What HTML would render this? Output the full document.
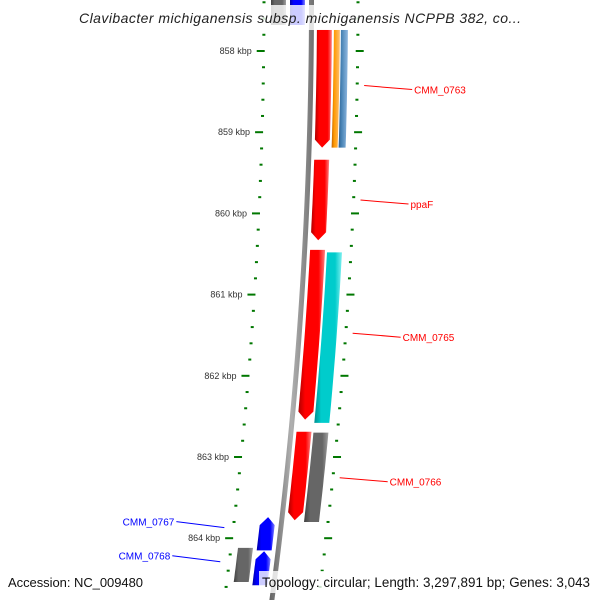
<!DOCTYPE html>
<html><head><meta charset="utf-8"><style>
body{margin:0;background:#fff}
svg{display:block;font-family:"Liberation Sans","DejaVu Sans",sans-serif}
</style></head><body>
<svg id="map" width="600" height="600" viewBox="0 0 600 600">
<defs>
<linearGradient id="gRed" x1="0" x2="1" y1="0" y2="0"><stop offset="0" stop-color="#b00000"/><stop offset="0.25" stop-color="#ff0000"/><stop offset="0.75" stop-color="#ff0000"/><stop offset="1" stop-color="#ff8080"/></linearGradient>
<linearGradient id="gOrange" x1="0" x2="1"><stop offset="0" stop-color="#c06000"/><stop offset="0.3" stop-color="#ff9900"/><stop offset="1" stop-color="#ffc070"/></linearGradient>
<linearGradient id="gSteel" x1="0" x2="1"><stop offset="0" stop-color="#2f5f8f"/><stop offset="0.3" stop-color="#4682b4"/><stop offset="1" stop-color="#90b8e0"/></linearGradient>
<linearGradient id="gCyan" x1="0" x2="1"><stop offset="0" stop-color="#009090"/><stop offset="0.25" stop-color="#00cccc"/><stop offset="0.75" stop-color="#00cccc"/><stop offset="1" stop-color="#80f0f0"/></linearGradient>
<linearGradient id="gGray" x1="0" x2="1"><stop offset="0" stop-color="#404040"/><stop offset="0.25" stop-color="#666"/><stop offset="0.75" stop-color="#666"/><stop offset="1" stop-color="#a0a0a0"/></linearGradient>
<linearGradient id="gBlue" x1="0" x2="1"><stop offset="0" stop-color="#0000a0"/><stop offset="0.25" stop-color="#0000ff"/><stop offset="0.75" stop-color="#0000ff"/><stop offset="1" stop-color="#8080ff"/></linearGradient>
<linearGradient id="gBack" x1="0" x2="1"><stop offset="0" stop-color="#606060"/><stop offset="0.5" stop-color="#b0b0b0"/><stop offset="1" stop-color="#707070"/></linearGradient>
</defs>
<g id="layer"></g>
</svg>
<script>
// data
const tickKbp=[858,859,860,861,862,863,864];
const tickLabels=["858 kbp","859 kbp","860 kbp","861 kbp","862 kbp","863 kbp","864 kbp"];
const geneNames=["top-gray","top-blue","CMM_0763","CMM_0763-b","CMM_0763-c","ppaF","CMM_0765","CMM_0765-b","CMM_0766","CMM_0766-b","CMM_0767","CMM_0768","CMM_0768-b"];
const geneStart=[857.2,857.2,857.74,857.74,857.74,859.34,860.45,860.48,862.69,862.7,863.74,864.16,864.12];
const geneEnd=[857.68,857.68,859.19,859.19,859.19,860.33,862.54,862.58,863.78,863.8,864.15,864.58,864.54];
const geneStrand=[0,0,-1,0,0,-1,-1,0,-1,0,1,1,0];
const geneLane=[-2,-1,1,2.1,3.1,1,1,2,1,2,-1,-1,-2];
const geneFill=["gGray","gBlue","gRed","gOrange","gSteel","gRed","gRed","gCyan","gRed","gGray","gBlue","gBlue","gGray"];
const labelText=["CMM_0763","ppaF","CMM_0765","CMM_0766","CMM_0767","CMM_0768"];
const labelSide=[1,1,1,1,-1,-1];
const labelColor=["#ff0000","#ff0000","#ff0000","#ff0000","#0000ff","#0000ff"];
const labelAnchorKbp=[858.45,859.86,861.5,863.28,863.87,864.29];

const NS="http://www.w3.org/2000/svg";
const L=document.getElementById('layer');
function Y(k){return 51+(k-858)*81.2;}
function BX(y){return 310-1.1e-4*y*y;}
function mk(t,a){const e=document.createElementNS(NS,t);for(const k in a)e.setAttribute(k,a[k]);L.appendChild(e);return e;}
function laneOff(l){
  if(l===1)return[7,22];if(l===2)return[24,39];if(l===2.1)return[24,30];if(l===3.1)return[31,38];
  if(l===-1)return[-20,-5];if(l===-2)return[-39,-24];return[0,0];}
// backbone
(function(){let p=[];for(let y=-5;y<=605;y+=10)p.push((BX(y)-1)+","+y);for(let y=605;y>=-5;y-=10)p.push((BX(y)+4)+","+y);
const e=mk('polygon',{points:p.join(' '),fill:'url(#gBack)'});

})();
// ticks
for(let k=857.2;k<=865.01;k+=0.2){
  const y=Y(k);const major=Math.abs(k-Math.round(k))<0.01;
  const xl=BX(y)-46, xr=BX(y)+48;
  const t1=mk('rect',{x:major?xl-7:xl-1.5,y:y-1,width:major?8:3,height:2,fill:'#007700'});
  
  
  const t2=mk('rect',{x:major?xr-2:xr-1.5,y:y-1,width:major?8:3,height:2,fill:'#007700'});
  
  
}
tickKbp.forEach((k,i)=>{const y=Y(k);
  const t=mk('text',{x:BX(y)-58,y:y+3,'font-size':9,'text-anchor':'end',fill:'#333'});t.textContent=tickLabels[i];
  
  });
// genes
geneNames.forEach((n,i)=>{
  const y1=Y(geneStart[i]),y2=Y(geneEnd[i]);const [o1,o2]=laneOff(geneLane[i]);const s=geneStrand[i];
  const left=[],right=[];const a1=s===1?y1+8:y1,a2=s===-1?y2-8:y2;
  for(let t=0;t<=10;t++){const y=a1+(a2-a1)*t/10;left.push([BX(y)+o1,y]);right.push([BX(y)+o2,y]);}
  let pts=[...left];
  if(s===-1){pts.push([BX(y2)+(o1+o2)/2,y2]);}
  pts=pts.concat(right.reverse());
  if(s===1){pts.push([BX(y1)+(o1+o2)/2,y1]);}
  const g=mk('polygon',{points:pts.map(p=>p[0].toFixed(1)+","+p[1].toFixed(1)).join(' '),fill:'url(#'+geneFill[i]+')'});
  
  
});
// labels
labelText.forEach((t,i)=>{
  const ya=Y(labelAnchorKbp[i]);const s=labelSide[i];
  const x1=BX(ya)+s*55, x2=x1+s*48;
  const yFar=s>0?ya+2:ya-6;
  const ln=mk('line',{x1:x1,y1:s>0?ya-2:ya,x2:x2,y2:yFar,stroke:labelColor[i],'stroke-width':1});
  
  
  const tx=mk('text',{x:x2+s*2,y:yFar+4,'font-size':10,'text-anchor':s>0?'start':'end',fill:labelColor[i]});tx.textContent=t;
  
  
});
// title & footer
const r1=mk('rect',{x:75,y:5,width:450,height:25,fill:'#fff','fill-opacity':0.8});


const ti=mk('text',{x:79,y:23,'font-size':14,'font-style':'italic',textLength:442,lengthAdjust:'spacing',fill:'#222'});
ti.textContent="Clavibacter michiganensis subsp. michiganensis NCPPB 382, co...";


const r2=mk('rect',{x:259,y:571,width:341,height:22,fill:'#fff','fill-opacity':0.8});


const f1=mk('text',{x:8,y:587,'font-size':13,textLength:135,fill:'#111'});f1.textContent="Accession: NC_009480";


const f2=mk('text',{x:262,y:587,'font-size':13.4,textLength:328,fill:'#111'});f2.textContent="Topology: circular; Length: 3,297,891 bp; Genes: 3,043";


</script>
</body></html>
